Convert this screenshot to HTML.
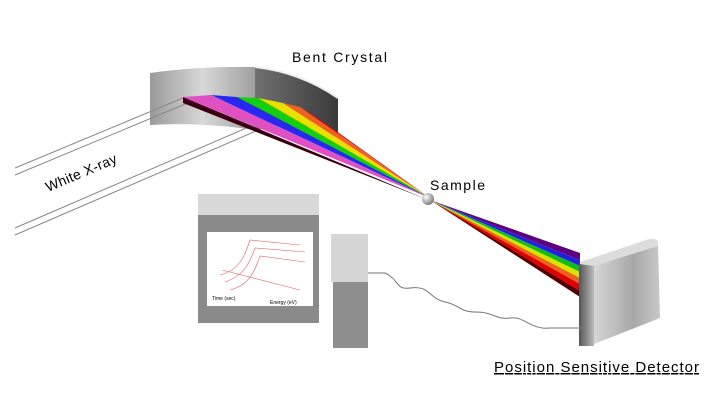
<!DOCTYPE html>
<html><head><style>body{margin:0;background:#fff}svg{display:block}text{font-family:"Liberation Sans",sans-serif}</style></head><body>
<svg width="709" height="416" viewBox="0 0 709 416" xmlns="http://www.w3.org/2000/svg">
<defs>
<linearGradient id="cl" x1="0" x2="1"><stop offset="0" stop-color="#9a9a9a"/><stop offset="0.5" stop-color="#d8d8d8"/><stop offset="1" stop-color="#a0a0a0"/></linearGradient>
<linearGradient id="cr" x1="0" x2="1"><stop offset="0" stop-color="#707070"/><stop offset="1" stop-color="#3a3a3a"/></linearGradient>
<linearGradient id="df" x1="0" x2="1"><stop offset="0" stop-color="#555"/><stop offset="1" stop-color="#bbb"/></linearGradient>
<linearGradient id="ds" x1="0" x2="1"><stop offset="0" stop-color="#d6d6d6"/><stop offset="0.6" stop-color="#a8a8a8"/><stop offset="1" stop-color="#c8c8c8"/></linearGradient>
<radialGradient id="sp" cx="0.35" cy="0.35" r="0.7"><stop offset="0" stop-color="#fff"/><stop offset="1" stop-color="#777"/></radialGradient>
</defs>
<path d="M150,73 Q200,66 255,67 L255,130 Q200,122 150,125 Z" fill="url(#cl)"/>
<path d="M255,67 Q300,72 338,98 L338,138 Q300,118 255,130 Z" fill="url(#cr)"/>
<path d="M255,67 Q300,72 338,98" stroke="#eee" stroke-width="2" fill="none"/>
<g stroke="#888" stroke-width="1">
<line x1="15" y1="168" x2="183" y2="98"/><line x1="15" y1="175" x2="190" y2="102"/>
<line x1="15" y1="228" x2="295" y2="107"/><line x1="15" y1="235" x2="300" y2="112"/>
</g>
<text x="0" y="0" font-size="14" textLength="76" transform="translate(48,192) rotate(-23)">White X-ray</text>
<polygon points="183,97 183,103 428,200" fill="#3a0010"/>
<polygon points="300,107 318,118 430,198" fill="#e00000"/>
<polygon points="283,103 300,107 430,198" fill="#f06020"/>
<polygon points="258,98 283,103 430,198" fill="#e8e000"/>
<polygon points="237,97 258,98 430,198" fill="#10d010"/>
<polygon points="211,95 237,97 430,198" fill="#2828f0"/>
<polygon points="183,97 211,95 430,198" fill="#e050c0"/>
<polygon points="430,200 580,260 580,253" fill="#600080"/>
<polygon points="430,200 580,266 580,260" fill="#2020e0"/>
<polygon points="430,200 580,272 580,266" fill="#10c010"/>
<polygon points="430,200 580,278 580,272" fill="#e0e000"/>
<polygon points="430,200 580,284 580,278" fill="#f06020"/>
<polygon points="430,200 580,291 580,284" fill="#e00000"/>
<polygon points="430,200 580,297 580,291" fill="#500000"/>
<circle cx="428" cy="199" r="6" fill="url(#sp)"/>
<text x="430" y="190" font-size="14" textLength="55">Sample</text>
<text x="292" y="62" font-size="14" textLength="95">Bent Crystal</text>
<!-- detector -->
<path d="M594,264 L658,244 L660,318 L594,344 Z" fill="url(#ds)"/>
<path d="M580,262 L646,240 Q660,236 658,246 L594,266 Q578,268 580,262 Z" fill="#dcdcdc"/>
<path d="M579,264 L594,266 L594,346 L579,346 Z" fill="url(#df)"/>
<path d="M368,273 L385,273 C400,280 395,290 410,288 C430,285 428,298 445,302 C460,305 460,312 475,312 C495,312 495,320 510,318 C525,316 530,330 550,328 L582,328" stroke="#777" fill="none"/>
<rect x="198" y="194" width="121" height="21" fill="#d8d8d8"/>
<rect x="198" y="215" width="121" height="108" fill="#8a8a8a"/>
<rect x="207" y="232" width="106" height="74" fill="#fff"/>
<g stroke="#e06060" stroke-width="0.6" fill="none">
<path d="M220,275 C240,270 245,255 250,240 L300,245"/><path d="M225,282 C245,275 250,262 255,248 L305,252"/>
<path d="M230,290 C250,285 255,270 260,256 L305,262"/><path d="M222,270 L300,290"/>
</g>
<text x="212" y="300" font-size="5">Time (sec)</text><text x="270" y="304" font-size="5">Energy (eV)</text>
<rect x="331" y="234" width="37" height="48" fill="#d6d6d6"/>
<rect x="333" y="282" width="35" height="66" fill="#8e8e8e"/>
<text x="494" y="372" font-size="15" textLength="205" text-decoration="underline">Position Sensitive Detector</text>
</svg>
</body></html>
